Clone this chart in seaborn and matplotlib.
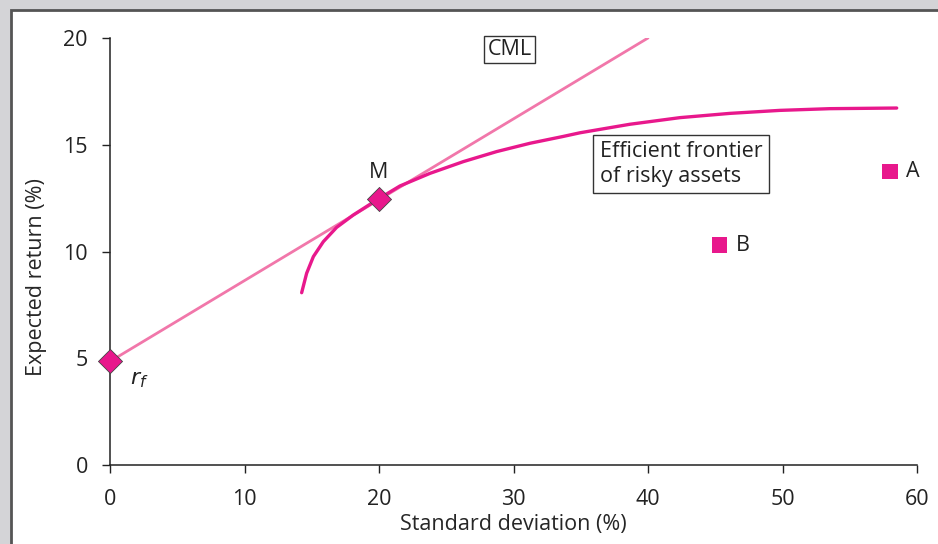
import numpy as np
import pandas as pd
import matplotlib
matplotlib.use("Agg")
import matplotlib.pyplot as plt
import seaborn as sns
from matplotlib.patches import Rectangle

# 数据
FRONTIER_SD = [14.25, 14.62, 15.12, 15.86, 16.85, 18.09, 19.9, 21.56, 23.79, 26.27,
               28.75, 31.23, 33.70, 34.94, 38.66, 42.38, 46.10, 49.81, 53.53, 58.49]
FRONTIER_RET = [8.07, 8.98, 9.76, 10.46, 11.13, 11.71, 12.44, 13.07, 13.66, 14.21,
                14.68, 15.07, 15.39, 15.56, 15.96, 16.27, 16.47, 16.61, 16.69, 16.72]
CML_SD = [0, 40]
CML_RET = [4.85, 20]
DIAMOND_SD = [0, 20]          # rf, M
DIAMOND_RET = [4.85, 12.45]
ASSET_NAMES = ["A", "B"]
ASSET_SD = [58.0, 45.3]
ASSET_RET = [13.75, 10.3]

PINK = "#e8188c"
LIGHT_PINK = "#f177aa"
FS = 15.5
OUT_PATH = "out.png"

sns.set_style("ticks")
plt.rcParams['font.family'] = ['Open Sans', 'DejaVu Sans']
plt.rcParams['text.color'] = '#222222'

fig = plt.figure(figsize=(9.38, 5.44), dpi=100)
fig.patch.set_facecolor("#d4d4d7")
# 白色面板
panel = Rectangle((11 / 938, -0.2), 1.2, 1.2 - 10 / 544,
                  transform=fig.transFigure, facecolor="white",
                  edgecolor="#555555", linewidth=2, zorder=-1)
fig.add_artist(panel)

ax = fig.add_axes([110 / 938, 1 - 465 / 544, (917 - 110) / 938, (465 - 38) / 544])
ax.set_facecolor("white")

frontier = pd.DataFrame({"sd": FRONTIER_SD, "ret": FRONTIER_RET})
cml = pd.DataFrame({"sd": CML_SD, "ret": CML_RET})
diamonds = pd.DataFrame({"sd": DIAMOND_SD, "ret": DIAMOND_RET})
assets = pd.DataFrame({"name": ASSET_NAMES, "sd": ASSET_SD, "ret": ASSET_RET})

sns.lineplot(data=cml, x="sd", y="ret", color=LIGHT_PINK, linewidth=2, ax=ax)
sns.lineplot(data=frontier, x="sd", y="ret", sort=False, color=PINK, linewidth=2.4, ax=ax)
sns.scatterplot(data=diamonds, x="sd", y="ret", marker="D", s=150, color=PINK,
                edgecolor="#444444", linewidth=0.6, zorder=5, clip_on=False, ax=ax)
sns.scatterplot(data=assets, x="sd", y="ret", marker="s", s=120, color=PINK,
                edgecolor="none", zorder=5, clip_on=False, ax=ax)

# 文字标注
ax.text(20, 13.7, "M", ha="center", va="center", fontsize=FS)
for name, x, y in zip(ASSET_NAMES, ASSET_SD, ASSET_RET):
    ax.text(x + 1.2, y, name, ha="left", va="center", fontsize=FS)
ax.text(1.5, 4.0, r"$r_f$", ha="left", va="center", fontsize=16,
        math_fontfamily="dejavusans")
ax.text(29.7, 19.45, "CML", ha="center", va="center", fontsize=FS,
        bbox=dict(boxstyle="square,pad=0.15", fc="white", ec="#333333", lw=1))
ax.text(36.4, 14.1, "Efficient frontier\nof risky assets", ha="left", va="center",
        fontsize=FS, linespacing=1.25,
        bbox=dict(boxstyle="square,pad=0.3", fc="white", ec="#333333", lw=1))

ax.set_xlim(0, 60)
ax.set_ylim(0, 20)
ax.set_xticks(range(0, 61, 10))
ax.set_yticks(range(0, 21, 5))
ax.set_xlabel("Standard deviation (%)", fontsize=FS, labelpad=3)
ax.set_ylabel("Expected return (%)", fontsize=FS)
ax.yaxis.set_label_coords(-0.078, 0.44)
ax.tick_params(axis="both", labelsize=FS, length=6, width=1, color="#222222",
               labelcolor="#222222")
ax.tick_params(axis="x", pad=11)
ax.tick_params(axis="y", pad=10)
sns.despine(ax=ax)
for sp in ["left", "bottom"]:
    ax.spines[sp].set_color("#222222")
    ax.spines[sp].set_linewidth(1.1)

fig.savefig(OUT_PATH, dpi=100, facecolor=fig.get_facecolor())
